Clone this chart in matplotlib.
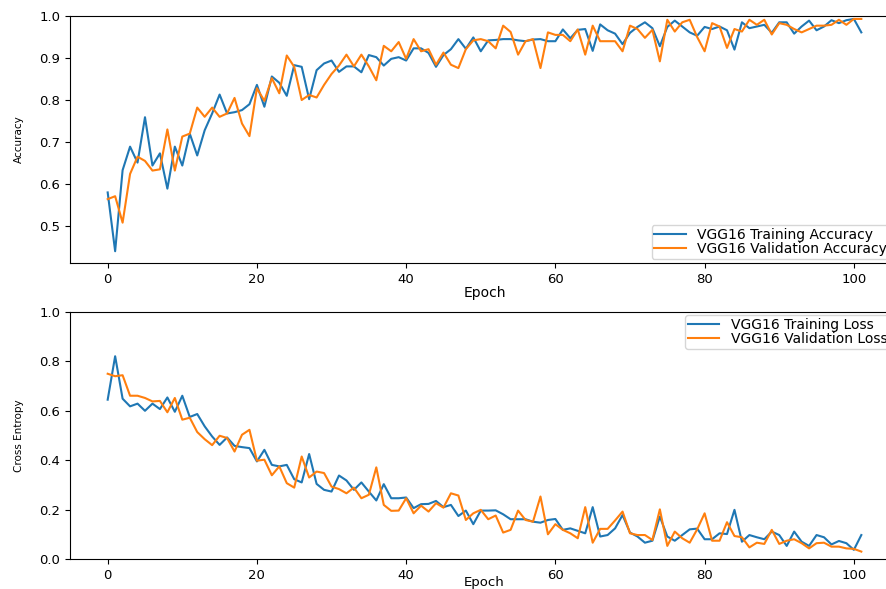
import numpy as np
import matplotlib
matplotlib.use("Agg")
import matplotlib.pyplot as plt

# values, epochs 0..101
train_acc = [0.58, 0.44, 0.633, 0.689, 0.651, 0.759, 0.644, 0.673, 0.589, 0.689,
             0.644, 0.72, 0.668, 0.728, 0.768, 0.813, 0.768, 0.771, 0.776, 0.79,
             0.836, 0.784, 0.856, 0.841, 0.81, 0.883, 0.879, 0.802, 0.871, 0.887,
             0.894, 0.867, 0.88, 0.88, 0.866, 0.907, 0.902, 0.882, 0.898, 0.902,
             0.894, 0.923, 0.923, 0.912, 0.879, 0.907, 0.921, 0.945, 0.922, 0.949,
             0.916, 0.942, 0.943, 0.945, 0.945, 0.942, 0.94, 0.944, 0.945, 0.94,
             0.94, 0.968, 0.947, 0.967, 0.969, 0.917, 0.98, 0.966, 0.958, 0.933,
             0.96, 0.974, 0.985, 0.971, 0.928, 0.974, 0.989, 0.975, 0.961, 0.953,
             0.974, 0.969, 0.975, 0.966, 0.92, 0.985, 0.971, 0.975, 0.979, 0.96,
             0.985, 0.985, 0.958, 0.975, 0.989, 0.966, 0.975, 0.99, 0.983, 0.99,
             0.993, 0.961]

val_acc = [0.564, 0.571, 0.508, 0.624, 0.665, 0.655, 0.632, 0.635, 0.73, 0.632,
           0.713, 0.72, 0.782, 0.76, 0.782, 0.76, 0.768, 0.805, 0.744, 0.714,
           0.828, 0.798, 0.852, 0.816, 0.906, 0.879, 0.8, 0.812, 0.806, 0.836,
           0.862, 0.882, 0.908, 0.88, 0.908, 0.88, 0.847, 0.929, 0.916, 0.938,
           0.898, 0.945, 0.916, 0.921, 0.884, 0.913, 0.884, 0.876, 0.921, 0.942,
           0.945, 0.94, 0.923, 0.977, 0.962, 0.908, 0.94, 0.945, 0.876, 0.961,
           0.955, 0.955, 0.94, 0.968, 0.908, 0.977, 0.94, 0.94, 0.94, 0.916,
           0.977, 0.969, 0.948, 0.967, 0.892, 0.991, 0.963, 0.985, 0.991, 0.95,
           0.916, 0.983, 0.975, 0.924, 0.969, 0.963, 0.991, 0.979, 0.991, 0.956,
           0.983, 0.979, 0.969, 0.961, 0.969, 0.977, 0.977, 0.979, 0.991, 0.979,
           0.993, 0.993]

train_loss = [0.645, 0.821, 0.649, 0.618, 0.629, 0.6, 0.629, 0.607, 0.654, 0.596,
              0.661, 0.575, 0.587, 0.537, 0.496, 0.462, 0.492, 0.458, 0.453, 0.449,
              0.395, 0.442, 0.381, 0.375, 0.381, 0.323, 0.31, 0.425, 0.304, 0.28,
              0.273, 0.338, 0.318, 0.28, 0.31, 0.273, 0.237, 0.303, 0.246, 0.246,
              0.249, 0.206, 0.222, 0.223, 0.235, 0.21, 0.219, 0.174, 0.196, 0.141,
              0.196, 0.196, 0.197, 0.181, 0.161, 0.161, 0.161, 0.151, 0.147, 0.158,
              0.162, 0.118, 0.124, 0.114, 0.104, 0.21, 0.091, 0.097, 0.124, 0.178,
              0.107, 0.091, 0.066, 0.074, 0.172, 0.091, 0.074, 0.097, 0.12, 0.123,
              0.08, 0.08, 0.104, 0.101, 0.199, 0.07, 0.097, 0.088, 0.08, 0.111,
              0.097, 0.053, 0.111, 0.07, 0.053, 0.097, 0.088, 0.059, 0.073, 0.064,
              0.037, 0.097]

val_loss = [0.75, 0.74, 0.744, 0.661, 0.661, 0.652, 0.638, 0.64, 0.594, 0.652,
            0.564, 0.572, 0.514, 0.485, 0.461, 0.499, 0.49, 0.435, 0.503, 0.523,
            0.398, 0.402, 0.339, 0.375, 0.307, 0.289, 0.415, 0.33, 0.354, 0.348,
            0.293, 0.283, 0.266, 0.289, 0.246, 0.26, 0.371, 0.219, 0.195, 0.196,
            0.246, 0.185, 0.216, 0.192, 0.226, 0.208, 0.266, 0.257, 0.158, 0.185,
            0.199, 0.161, 0.176, 0.107, 0.118, 0.196, 0.158, 0.151, 0.253, 0.1,
            0.141, 0.118, 0.104, 0.084, 0.21, 0.066, 0.122, 0.122, 0.156, 0.192,
            0.104, 0.097, 0.097, 0.077, 0.201, 0.053, 0.111, 0.084, 0.066, 0.12,
            0.185, 0.074, 0.074, 0.149, 0.093, 0.088, 0.047, 0.066, 0.061, 0.118,
            0.061, 0.074, 0.08, 0.064, 0.043, 0.064, 0.066, 0.05, 0.05, 0.043,
            0.041, 0.03]

epochs = np.arange(len(train_acc))

W, H = 887, 589
fig = plt.figure(figsize=(W / 100, H / 100), dpi=100)

# axes run past the right edge, like the cropped original
ax1 = fig.add_axes([70 / W, 1 - 263 / H, 829 / W, 247 / H])
ax2 = fig.add_axes([70 / W, 1 - 559 / H, 829 / W, 247 / H])

leg_opts = dict(fontsize=10, labelspacing=0.0, borderpad=0.2, handlelength=2.3,
                borderaxespad=0, bbox_transform=fig.transFigure)

ax1.plot(epochs, train_acc, color="#1f77b4", lw=1.5, label="VGG16 Training Accuracy")
ax1.plot(epochs, val_acc, color="#ff7f0e", lw=1.5, label="VGG16 Validation Accuracy")
ax1.set_xlim(-5.05, 106.05)
ax1.set_ylim(0.412, 1.0)
ax1.set_yticks([0.5, 0.6, 0.7, 0.8, 0.9, 1.0])
ax1.set_xticks([0, 20, 40, 60, 80, 100])
ax1.set_xlabel("Epoch", fontsize=10, labelpad=0)
ax1.set_ylabel("Accuracy", fontsize=7.5)
ax1.legend(loc="lower right", bbox_to_anchor=(890 / W, 1 - 259 / H), **leg_opts)

ax2.plot(epochs, train_loss, color="#1f77b4", lw=1.5, label="VGG16 Training Loss")
ax2.plot(epochs, val_loss, color="#ff7f0e", lw=1.5, label="VGG16 Validation Loss")
ax2.set_xlim(-5.05, 106.05)
ax2.set_ylim(0.0, 1.0)
ax2.set_yticks([0.0, 0.2, 0.4, 0.6, 0.8, 1.0])
ax2.set_xticks([0, 20, 40, 60, 80, 100])
ax2.set_xlabel("Epoch", fontsize=9.5, labelpad=-4)
ax2.set_ylabel("Cross Entropy", fontsize=7.5)
ax2.legend(loc="upper right", bbox_to_anchor=(890 / W, 1 - 315 / H), **leg_opts)

for ax in (ax1, ax2):
    ax.tick_params(labelsize=9.5, length=3.5)
    ax.yaxis.set_label_coords(-0.056, 0.5)

fig.savefig("out.png", dpi=100)
